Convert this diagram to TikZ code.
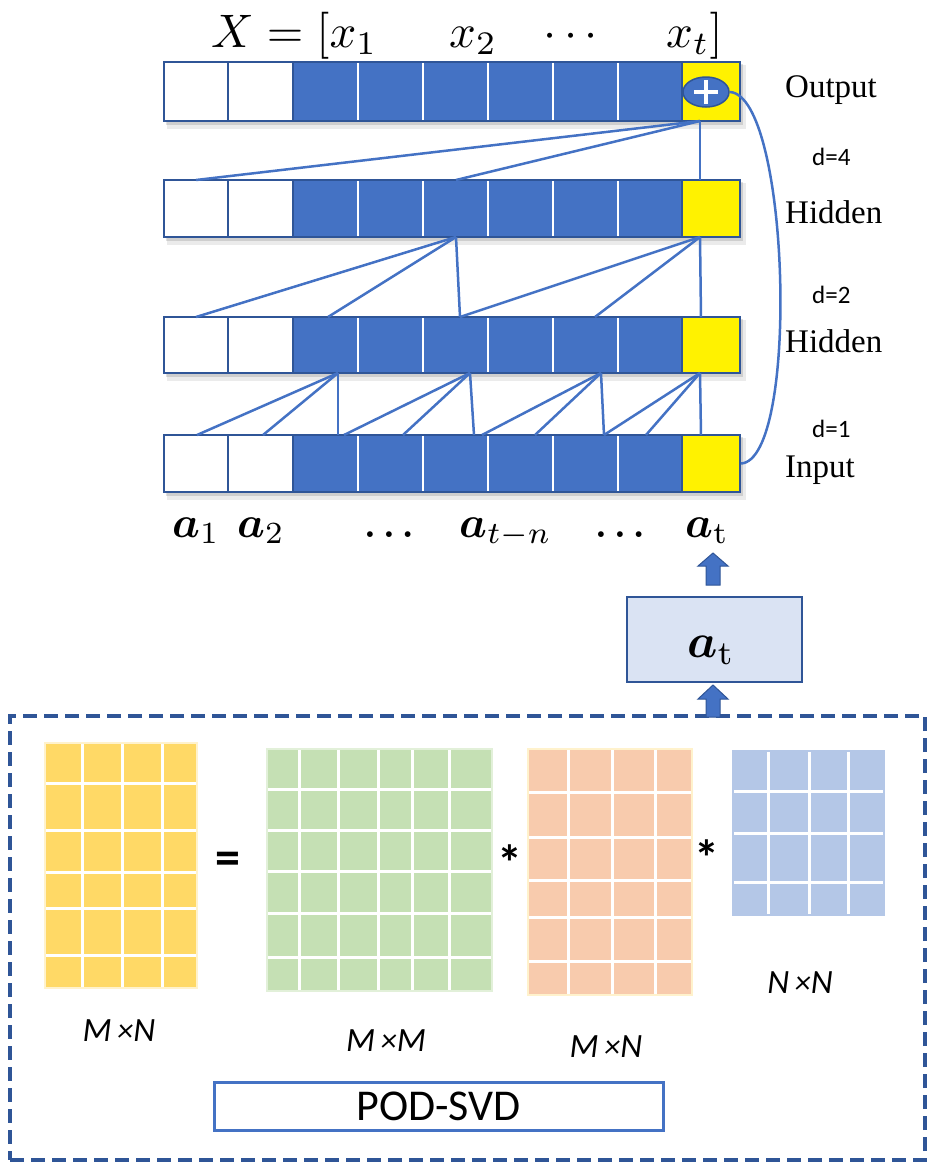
\documentclass[tikz,border=0pt]{standalone}
\usepackage{fontspec}
\usepackage{bm}
\usepackage{graphicx}
\usetikzlibrary{shapes.geometric}
\newfontfamily\serifF{Liberation Serif}
\newfontfamily\carl{Carlito}
\definecolor{blueF}{HTML}{4472C4}
\definecolor{darkB}{HTML}{2F5597}
\definecolor{boxF}{HTML}{DAE3F3}
\definecolor{matY}{HTML}{FFD966}
\definecolor{matYb}{HTML}{FFF2CC}
\definecolor{matG}{HTML}{C5E0B4}
\definecolor{matGb}{HTML}{E2F0D9}
\definecolor{matO}{HTML}{F8CBAD}
\definecolor{matOb}{HTML}{FFF2CC}
\definecolor{matB}{HTML}{B4C7E7}
\newcommand\matgrid[8]{%
  \fill[#5] (#1,#2) rectangle (#3,#4);
  \draw[#6, line width=2pt] (#1,#2) rectangle (#3,#4);
  \foreach \c in {#7} \draw[white, line width=3pt] (\c,#2+1) -- (\c,#4-1);
  \foreach \r in {#8} \draw[white, line width=3pt] (#1+1,\r) -- (#3-1,\r);
}
\begin{document}
\begin{tikzpicture}[x=1pt,y=-1pt,
  wcell/.style={rectangle, inner sep=0pt, fill=white, draw=darkB, line width=1.5pt},
  bcell/.style={rectangle, inner sep=0pt, fill=blueF, draw=white, line width=2.5pt},
  ycell/.style={rectangle, inner sep=0pt, fill=yellow, draw=darkB, line width=2pt},
  rowframe/.style={draw=darkB, line width=2pt},
  conn/.style={draw=blueF, line width=2.5pt},
  blk/.style={fill=blueF, draw=darkB, line width=1pt, line join=miter},
  serlab/.style={anchor=base west, inner sep=0pt, font=\serifF\fontsize{33}{36}\selectfont},
  dlab/.style={anchor=base west, inner sep=0pt, font=\carl\fontsize{25}{28}\selectfont},
  mlab/.style={anchor=base west, inner sep=0pt},
  dimlab/.style={inner sep=0pt, font=\carl\itshape\fontsize{34}{36}\selectfont},
  oplab/.style={anchor=base, inner sep=0pt, font=\carl\bfseries\fontsize{50}{52}\selectfont}
]
\useasboundingbox (0,0) rectangle (936,1171);

% ---------- layers ----------
\foreach \nm/\yt/\yb in {o/62/121, h/180/237, g/317/373, i/435/492}{
  \fill[black, opacity=0.08] (167,\yt+3) rectangle (746,\yb+8);
  \fill[black, opacity=0.12] (166,\yt+2) rectangle (743,\yb+4);
  \foreach \k/\xl/\xr/\st in {3/293/358/bcell, 4/358/423/bcell, 5/423/488/bcell, 6/488/553/bcell, 7/553/618/bcell, 8/618/682/bcell, 1/164/228/wcell, 2/228/293/wcell}
    \node[\st, minimum width={(\xr-\xl)*1pt}, minimum height={(\yb-\yt)*1pt}] (\nm\k) at ({(\xl+\xr)/2},{(\yt+\yb)/2}) {};
  \draw[rowframe] (164,\yt) rectangle (740,\yb);
  \node[ycell, minimum width=58pt, minimum height={(\yb-\yt)*1pt}] (\nm9) at (711,{(\yt+\yb)/2}) {};
}

% plus sign
\node[ellipse, minimum width=46pt, minimum height=30pt, inner sep=0pt, fill=blueF, draw=darkB, line width=1.5pt] (plus) at (706,92) {};
\draw[white, line width=4pt] (plus.center) ++(-12,0) -- ++(24,0);
\draw[white, line width=4pt] (plus.center) ++(0,-12) -- ++(0,24);

% ---------- connection points ----------
\coordinate (oB) at (700,121);
\coordinate (h1t) at (196,180);
\coordinate (h5t) at (456,180);
\coordinate (h9t) at (700,180);
\coordinate (hA) at (456,237);
\coordinate (hB) at (700,237);
\coordinate (g1t) at (196,317);
\coordinate (g3t) at (328,317);
\coordinate (g5t) at (460,317);
\coordinate (g7t) at (595,317);
\coordinate (g9t) at (701,317);
\coordinate (gA) at (338,373);
\coordinate (gB) at (470,373);
\coordinate (gC) at (601,373);
\coordinate (gD) at (700,373);
\coordinate (i1t) at (197,435);
\coordinate (i2t) at (263,435);
\coordinate (i3t) at (338,435);
\coordinate (i3u) at (344,435);
\coordinate (i4t) at (403,435);
\coordinate (i5t) at (474,435);
\coordinate (i5u) at (482,435);
\coordinate (i6t) at (535,435);
\coordinate (i7t) at (604,435);
\coordinate (i8t) at (646,435);
\coordinate (i9t) at (701,435);

\draw[conn] (oB) -- (h1t);
\draw[conn] (oB) -- (h5t);
\draw[conn] (oB) -- (h9t);
\draw[conn] (hA) -- (g1t);
\draw[conn] (hA) -- (g3t);
\draw[conn] (hA) -- (g5t);
\draw[conn] (hB) -- (g5t);
\draw[conn] (hB) -- (g7t);
\draw[conn] (hB) -- (g9t);
\draw[conn] (gA) -- (i1t);
\draw[conn] (gA) -- (i2t);
\draw[conn] (gA) -- (i3t);
\draw[conn] (gB) -- (i3u);
\draw[conn] (gB) -- (i4t);
\draw[conn] (gB) -- (i5t);
\draw[conn] (gC) -- (i5u);
\draw[conn] (gC) -- (i6t);
\draw[conn] (gC) -- (i7t);
\draw[conn] (gD) -- (i7t);
\draw[conn] (gD) -- (i8t);
\draw[conn] (gD) -- (i9t);

% residual curve
\draw[conn] (plus.east) .. controls (790,95) and (800,460) .. (i9.east);

% ---------- right labels ----------
\node[serlab] (tOut) at (785,97) {Output};
\node[dlab] (tD4) at (812,165) {d=4};
\node[serlab] (tH1) at (785,223) {Hidden};
\node[dlab] (tD2) at (812,303) {d=2};
\node[serlab] (tH2) at (785,352) {Hidden};
\node[dlab] (tD1) at (812,437) {d=1};
\node[serlab] (tIn) at (785,477) {Input};

% ---------- top formula ----------
\node[mlab] (fX) at (211,47) {\scalebox{4.7}{$X=[x_1$}};
\node[mlab] (fx2) at (449,47) {\scalebox{4.7}{$x_2$}};
\node[mlab] (fcd) at (543,47) {\scalebox{4.7}{$\cdots$}};
\node[mlab] (fxt) at (666,47) {\scalebox{4.7}{$x_t]$}};

% ---------- bottom labels ----------
\node[mlab] (la1) at (172,537) {\scalebox{4.4}{$\bm{a}_1$}};
\node[mlab] (la2) at (237,537) {\scalebox{4.4}{$\bm{a}_2$}};
\node[mlab] (ld1) at (364,537) {\scalebox{3.7}{$\bm{\ldots}$}};
\node[mlab] (latn) at (459,537) {\scalebox{4.4}{$\bm{a}_{t-n}$}};
\node[mlab] (ld2) at (595,537) {\scalebox{3.7}{$\bm{\ldots}$}};
\node[mlab] (lat) at (685,537) {\scalebox{4.4}{$\bm{a}_{\mathrm{t}}$}};

% ---------- a_t box ----------
\node[rectangle, inner sep=0pt, minimum width=175pt, minimum height=85pt, fill=boxF, draw=darkB, line width=2pt] (atb) at (714.5,639.5) {};
\node[mlab] (atl) at (687,657) {\scalebox{4.8}{$\bm{a}_{\mathrm{t}}$}};

% ---------- dashed frame ----------
\node[rectangle, inner sep=0pt, minimum width=915pt, minimum height=444pt, draw=darkB, line width=4pt, dash pattern=on 14pt off 7pt] (svd) at (467.5,938) {};

% block arrows
\coordinate (ar1) at (713,585);
\coordinate (ar2) at (713,717);
\draw[blk] (ar1) ++(-7,0) -- ++(0,-19) -- ++(-8,0) -- ++(15,-13) -- ++(15,13) -- ++(-8,0) -- ++(0,19) -- cycle;
\draw[blk] (ar2) ++(-7,0) -- ++(0,-18) -- ++(-8,0) -- ++(15,-14) -- ++(15,14) -- ++(-8,0) -- ++(0,18) -- cycle;

% ---------- matrices ----------
\matgrid{45}{743}{197}{988}{matY}{matYb}{82,122,162}{783,830,872,908,955}
\matgrid{267}{749}{492}{991}{matG}{matGb}{299,338,378,412,449}{789,830,871,913,957}
\matgrid{528}{749}{692}{995}{matO}{matOb}{568,612,655}{792,837,880,917,961}
\matgrid{733}{751}{884}{915}{matB}{matB}{768,809,848}{791,833,882}

\node[oplab] (eq) at (228,874) {=};
\node[oplab] (st1) at (510,880) {*};
\node[oplab] (st2) at (707,875) {*};

\node[dimlab] (dA) at (119,1031) {M\,{\fontsize{32}{32}\selectfont ×}N};
\node[dimlab] (dB) at (386,1041) {M\,{\fontsize{32}{32}\selectfont ×}M};
\node[dimlab] (dC) at (606,1047) {M\,{\fontsize{32}{32}\selectfont ×}N};
\node[dimlab] (dD) at (800,983) {N\,{\fontsize{32}{32}\selectfont ×}N};

% POD-SVD
\node[rectangle, inner sep=0pt, minimum width=449pt, minimum height=48pt, draw=blueF, line width=3pt, font=\carl\fontsize{44}{46}\selectfont] (pod) at (438.5,1106) {POD-SVD};
\end{tikzpicture}
\end{document}
